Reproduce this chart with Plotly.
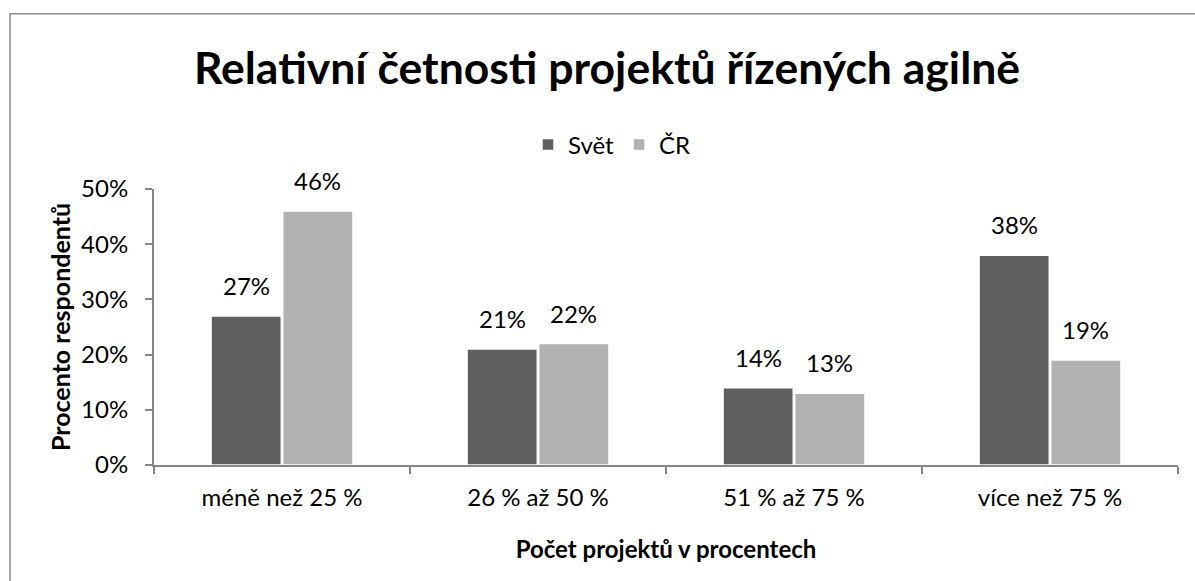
import plotly.graph_objects as go

# data
categories = ["méně než 25 %", "26 % až 50 %", "51 % až 75 %", "více než 75 %"]
svet = [0.27, 0.21, 0.14, 0.38]
cr = [0.46, 0.22, 0.13, 0.19]
series_names = ["Svět", "ČR"]

DARK = "#5f5f5f"
LIGHT = "#b2b2b2"
AXIS = "#868686"
FONT = "Lato"
W, H = 1195, 581

BARGAP = 0.44
BARGROUPGAP = 0.02

fig = go.Figure()
for name, values, color in zip(series_names, [svet, cr], [DARK, LIGHT]):
    fig.add_trace(
        go.Bar(
            name=name,
            x=categories,
            y=values,
            marker=dict(color=color, line=dict(color="white", width=1.5)),
        )
    )

# value labels above the bars (offset to each bar of the group)
slot = (1 - BARGAP) / 2
for k, values in enumerate([svet, cr]):
    for i, v in enumerate(values):
        fig.add_annotation(
            x=i + (k - 0.5) * slot,
            y=v,
            xref="x",
            yref="y",
            text=f"{v:.0%}",
            showarrow=False,
            yanchor="bottom",
            yshift=14,
            font=dict(family=FONT, size=24, color="black"),
        )

# outer chart border
fig.add_shape(
    type="rect", xref="paper", yref="paper",
    x0=-144 / 1024, x1=1.05, y0=-0.5, y1=(465 - 13) / 276.5,
    line=dict(color="#8c8c8c", width=1.5), layer="below",
)

fig.update_layout(
    width=W,
    height=H,
    margin=dict(l=154, r=17, t=188.5, b=116, autoexpand=False),
    paper_bgcolor="white",
    plot_bgcolor="white",
    font=dict(family=FONT, size=24, color="black"),
    barmode="group",
    bargap=BARGAP,
    bargroupgap=BARGROUPGAP,
    title=dict(
        text="<b>Relativní četnosti projektů řízených agilně</b>",
        font=dict(family=FONT, size=44.5, color="black"),
        x=607 / W,
        xanchor="center",
        xref="container",
        y=1 - 68 / H,
        yanchor="middle",
        yref="container",
    ),
    legend=dict(
        orientation="h",
        xref="container",
        yref="container",
        x=612 / W,
        xanchor="center",
        y=1 - 145 / H,
        yanchor="middle",
        font=dict(family=FONT, size=24),
        itemwidth=30,
        traceorder="normal",
    ),
    xaxis=dict(
        automargin=False,
        showline=True,
        linecolor=AXIS,
        linewidth=2,
        ticks="outside",
        tickson="boundaries",
        ticklen=7,
        tickcolor=AXIS,
        tickwidth=2,
        ticklabelstandoff=10,
        title=dict(text="<b>Počet projektů v procentech</b>", font=dict(size=24), standoff=31),
    ),
    yaxis=dict(
        automargin=False,
        range=[0, 0.5],
        dtick=0.1,
        tickformat=".0%",
        showgrid=False,
        zeroline=False,
        showline=True,
        linecolor=AXIS,
        linewidth=2,
        ticks="outside",
        ticklen=7,
        tickcolor=AXIS,
        tickwidth=2,
        ticklabelstandoff=12,
        title=dict(text="<b>Procento respondentů</b>", font=dict(size=25), standoff=3),
    ),
)

# drop the default page margin so the figure sits at the window's top-left corner
fig.write_html(
    "out.html",
    config={"displayModeBar": False},
    post_script="document.body.style.margin='0';",
)
